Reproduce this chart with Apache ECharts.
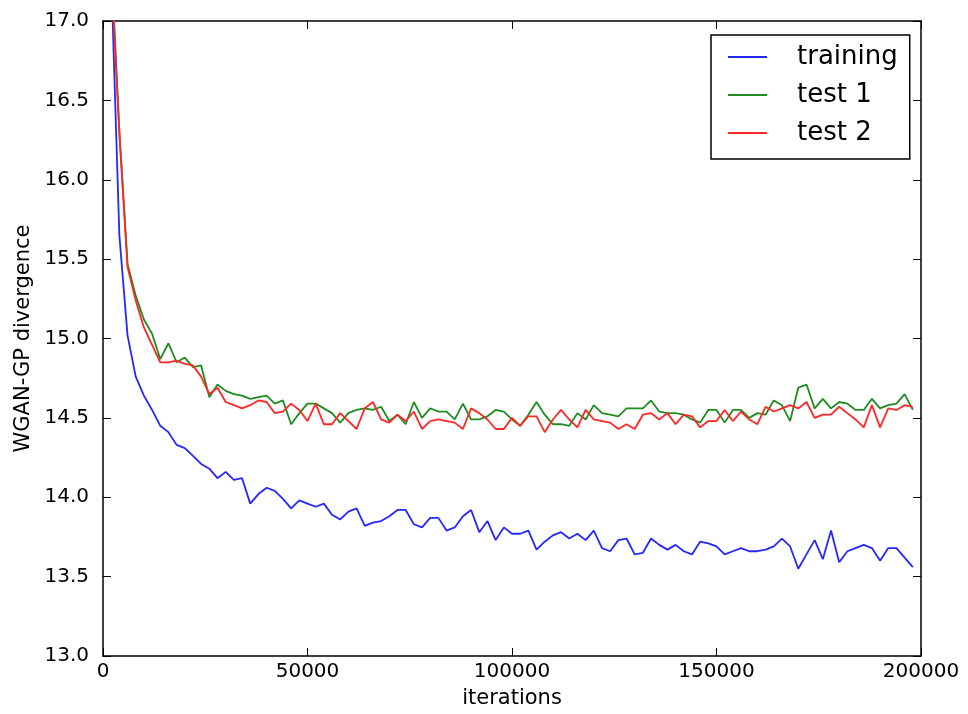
<!DOCTYPE html>
<html>
<head>
<meta charset="utf-8">
<script src="https://cdn.jsdelivr.net/npm/echarts@6/dist/echarts.min.js"></script>
<style>
  html, body { margin: 0; padding: 0; background: #fff; }
  #chart { width: 968px; height: 714px; }
</style>
</head>
<body>
<div id="chart"></div>
<script>
// iterations at which the divergence was evaluated
const iterations = [
  2000, 4000, 6000, 8000, 10000, 12000, 14000, 16000, 18000, 20000,
  22000, 24000, 26000, 28000, 30000, 32000, 34000, 36000, 38000, 40000,
  42000, 44000, 46000, 48000, 50000, 52000, 54000, 56000, 58000, 60000,
  62000, 64000, 66000, 68000, 70000, 72000, 74000, 76000, 78000, 80000,
  82000, 84000, 86000, 88000, 90000, 92000, 94000, 96000, 98000, 100000,
  102000, 104000, 106000, 108000, 110000, 112000, 114000, 116000, 118000, 120000,
  122000, 124000, 126000, 128000, 130000, 132000, 134000, 136000, 138000, 140000,
  142000, 144000, 146000, 148000, 150000, 152000, 154000, 156000, 158000, 160000,
  162000, 164000, 166000, 168000, 170000, 172000, 174000, 176000, 178000, 180000,
  182000, 184000, 186000, 188000, 190000, 192000, 194000, 196000, 198000
];

const training = [
  17.3, 15.65, 15.02, 14.76, 14.64, 14.55, 14.45, 14.41, 14.33, 14.31,
  14.26, 14.21, 14.18, 14.12, 14.16, 14.11, 14.12, 13.96, 14.02, 14.06,
  14.04, 13.99, 13.93, 13.98, 13.96, 13.94, 13.96, 13.89, 13.86, 13.91,
  13.93, 13.82, 13.84, 13.85, 13.88, 13.92, 13.92, 13.83, 13.81, 13.87,
  13.87, 13.79, 13.81, 13.88, 13.92, 13.78, 13.85, 13.73, 13.81, 13.77,
  13.77, 13.79, 13.67, 13.72, 13.76, 13.78, 13.74, 13.77, 13.73, 13.79,
  13.68, 13.66, 13.73, 13.74, 13.64, 13.65, 13.74, 13.70, 13.67, 13.70,
  13.66, 13.64, 13.72, 13.71, 13.69, 13.64, 13.66, 13.68, 13.66, 13.66,
  13.67, 13.69, 13.74, 13.69, 13.55, 13.64, 13.73, 13.61, 13.79, 13.59,
  13.66, 13.68, 13.70, 13.68, 13.60, 13.68, 13.68, 13.62, 13.56
];

const test1 = [
  17.4, 16.3, 15.47, 15.27, 15.12, 15.03, 14.87, 14.97, 14.85, 14.88,
  14.82, 14.83, 14.63, 14.71, 14.67, 14.65, 14.64, 14.62, 14.63, 14.64,
  14.59, 14.61, 14.46, 14.53, 14.59, 14.59, 14.56, 14.53, 14.47, 14.53,
  14.55, 14.56, 14.55, 14.57, 14.48, 14.52, 14.46, 14.60, 14.50, 14.56,
  14.54, 14.54, 14.49, 14.59, 14.49, 14.49, 14.51, 14.55, 14.54, 14.49,
  14.45, 14.52, 14.60, 14.52, 14.46, 14.46, 14.45, 14.53, 14.49, 14.58,
  14.53, 14.52, 14.51, 14.56, 14.56, 14.56, 14.61, 14.54, 14.53, 14.53,
  14.52, 14.49, 14.47, 14.55, 14.55, 14.47, 14.55, 14.55, 14.50, 14.53,
  14.52, 14.61, 14.58, 14.48, 14.69, 14.71, 14.56, 14.62, 14.56, 14.60,
  14.59, 14.55, 14.55, 14.62, 14.56, 14.58, 14.59, 14.65, 14.55
];

const test2 = [
  17.3, 16.3, 15.45, 15.24, 15.07, 14.96, 14.85, 14.85, 14.86, 14.84,
  14.83, 14.76, 14.65, 14.69, 14.60, 14.58, 14.56, 14.58, 14.61, 14.60,
  14.53, 14.54, 14.59, 14.55, 14.48, 14.59, 14.46, 14.46, 14.53, 14.48,
  14.43, 14.56, 14.60, 14.49, 14.47, 14.52, 14.48, 14.54, 14.43, 14.48,
  14.49, 14.48, 14.47, 14.43, 14.56, 14.53, 14.49, 14.43, 14.43, 14.50,
  14.45, 14.51, 14.51, 14.41, 14.49, 14.55, 14.49, 14.44, 14.55, 14.49,
  14.48, 14.47, 14.43, 14.46, 14.43, 14.52, 14.53, 14.49, 14.53, 14.46,
  14.52, 14.51, 14.44, 14.48, 14.48, 14.55, 14.48, 14.54, 14.49, 14.46,
  14.57, 14.54, 14.56, 14.58, 14.56, 14.60, 14.50, 14.52, 14.52, 14.57,
  14.53, 14.49, 14.44, 14.58, 14.44, 14.56, 14.55, 14.58, 14.57
];

const font = "'DejaVu Sans', sans-serif";
const pairs = vals => vals.map((v, i) => [iterations[i], v]);

// matplotlib-classic style frame: ticks inside on all four sides
const frameAxis = {
  axisLine: { show: true, onZero: false, lineStyle: { color: "#000", width: 1.5 } },
  axisTick: { show: true, inside: true, length: 8, lineStyle: { color: "#000", width: 1 } },
  splitLine: { show: false },
};

const xBase = { type: "value", min: 0, max: 200000, interval: 50000, ...frameAxis };
const yBase = { type: "value", min: 13, max: 17, interval: 0.5, ...frameAxis };

const lineSeries = (name, vals, color) => ({
  name,
  type: "line",
  xAxisIndex: 0,
  yAxisIndex: 0,
  data: pairs(vals),
  showSymbol: false,
  clip: true,
  color,
  lineStyle: { color, width: 1.8 },
  emphasis: { disabled: true },
  animation: false,
});

const option = {
  backgroundColor: "#fff",
  textStyle: { fontFamily: font },
  grid: { left: 103, right: 47, top: 21, bottom: 57 },
  xAxis: [
    {
      ...xBase,
      position: "bottom",
      name: "iterations",
      nameLocation: "middle",
      nameGap: 32,
      nameTextStyle: { fontFamily: font, fontSize: 21, color: "#000" },
      axisLabel: { fontFamily: font, fontSize: 20, color: "#000", margin: 6, formatter: v => String(v) },
    },
    { ...xBase, position: "top", axisLabel: { show: false } },
  ],
  yAxis: [
    {
      ...yBase,
      position: "left",
      name: "WGAN-GP divergence",
      nameLocation: "middle",
      nameGap: 62,
      nameTextStyle: { fontFamily: font, fontSize: 21, color: "#000" },
      axisLabel: { fontFamily: font, fontSize: 20, color: "#000", margin: 14, formatter: v => v.toFixed(1) },
    },
    { ...yBase, position: "right", axisLabel: { show: false } },
  ],
  legend: {
    orient: "vertical",
    left: 711,
    top: 35,
    padding: [7, 12, 11, 17],
    itemWidth: 39,
    itemHeight: 2,
    itemGap: 8,
    icon: "rect",
    borderColor: "#000",
    borderWidth: 1.5,
    borderRadius: 0,
    backgroundColor: "#fff",
    textStyle: { fontFamily: font, fontSize: 26, color: "#000", lineHeight: 30, padding: [0, 0, 0, 25] },
    data: ["training", "test 1", "test 2"],
  },
  series: [
    lineSeries("training", training, "#2626ff"),
    lineSeries("test 1", test1, "#1f8c1f"),
    lineSeries("test 2", test2, "#ff2626"),
  ],
};

const myChart = echarts.init(document.getElementById("chart"));
myChart.setOption(option);
</script>
</body>
</html>
